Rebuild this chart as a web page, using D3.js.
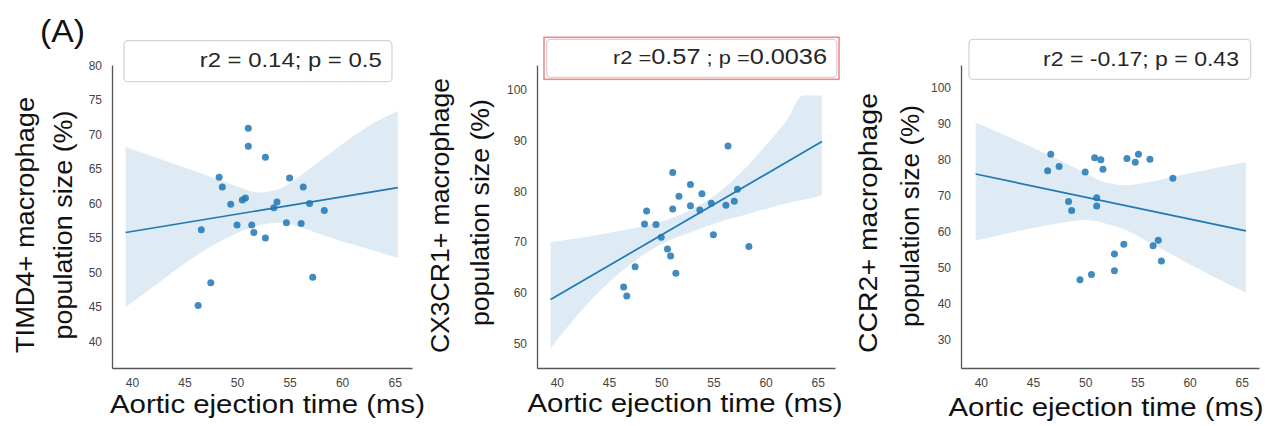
<!DOCTYPE html>
<html>
<head>
<meta charset="utf-8">
<script src="https://cdn.jsdelivr.net/npm/d3@7"></script>
<style>
  body { margin: 0; background: #fff; }
  svg { display: block; font-family: "Liberation Sans", Arial, sans-serif; }
</style>
</head>
<body>
<svg id="fig" width="1273" height="426"></svg>
<script>
// ---- shared axis values ----
const xTickValues = [40, 45, 50, 55, 60, 65];
const xLabel = "Aortic ejection time (ms)";

// ---- TIMD4+ panel ----
const timd4Time = [51.07, 51.07, 52.7, 48.3, 48.6, 55.0, 56.3, 49.4, 50.5, 50.8, 53.8, 53.5,
                   56.9, 58.3, 46.6, 50.0, 51.4, 54.7, 56.1, 51.6, 52.7, 47.5, 46.3, 57.2];
const timd4Pop  = [70.9, 68.3, 66.7, 63.8, 62.4, 63.7, 62.4, 59.9, 60.5, 60.8, 60.2, 59.4,
                   60.0, 59.0, 56.2, 56.9, 56.9, 57.2, 57.1, 55.8, 55.0, 48.5, 45.2, 49.3];
const timd4FitX = [39.4, 65.3];
const timd4FitY = [55.8, 62.3];
const timd4BandX  = [39.4, 42, 45, 48, 50, 52, 54, 56, 58, 60, 62.5, 65.3];
const timd4BandLo = [45.0, 47.9, 51.3, 54.2, 55.7, 56.8, 57.2, 56.6, 55.5, 54.5, 53.4, 52.1];
const timd4BandHi = [68.2, 66.8, 65.2, 63.6, 62.5, 61.6, 62.1, 64.0, 66.3, 68.6, 71.2, 73.4];
const timd4YTicks = [40, 45, 50, 55, 60, 65, 70, 75, 80];

// ---- CX3CR1+ panel ----
const cx3cr1Time = [56.4, 51.1, 52.8, 51.7, 53.9, 57.3, 52.8, 54.8, 56.2, 57.0, 51.1, 53.7,
                    48.6, 48.4, 49.5, 50.0, 50.6, 50.9, 51.4, 47.5, 46.4, 46.7, 55.0, 58.4];
const cx3cr1Pop  = [88.9, 83.7, 81.3, 79.0, 79.5, 80.4, 77.1, 77.6, 77.2, 78.0, 76.5, 76.3,
                    76.1, 73.5, 73.4, 70.9, 68.6, 67.2, 63.8, 65.1, 61.1, 59.3, 71.4, 69.1];
const cx3cr1FitX = [39.4, 65.4];
const cx3cr1FitY = [58.6, 89.8];
const cx3cr1BandX  = [39.4, 42, 45, 48, 50, 52, 54, 56, 58, 60, 62, 63.6, 65.4];
const cx3cr1BandLo = [49.0, 55.6, 62.0, 67.0, 69.5, 71.3, 72.8, 74.2, 75.3, 76.5, 77.6, 78.3, 79.2];
const cx3cr1BandHi = [69.9, 70.7, 71.8, 73.0, 74.0, 75.5, 77.6, 80.6, 84.4, 89.0, 93.9, 98.9, 98.9];
const cx3cr1YTicks = [50, 60, 70, 80, 90, 100];

// ---- CCR2+ panel ----
const ccr2Time = [46.7, 46.4, 47.5, 50.9, 51.5, 50.0, 51.7, 54.0, 55.1, 54.8, 56.2, 58.4,
                  48.4, 48.7, 51.1, 51.1, 53.7, 52.8, 52.8, 50.6, 49.5, 56.5, 57.0, 57.3];
const ccr2Pop  = [81.6, 77.0, 78.2, 80.6, 80.1, 76.7, 77.4, 80.4, 81.6, 79.4, 80.2, 74.9,
                  68.5, 66.0, 69.5, 67.2, 56.6, 53.9, 49.2, 48.2, 46.7, 56.2, 57.7, 51.9];
const ccr2FitX = [39.5, 65.4];
const ccr2FitY = [76.1, 60.3];
const ccr2BandX  = [39.5, 42, 45, 48, 50, 52, 54, 56, 58, 60, 62.5, 65.4];
const ccr2BandLo = [57.6, 59.3, 61.1, 62.7, 63.3, 62.3, 60.4, 57.3, 54.2, 51.0, 47.3, 43.1];
const ccr2BandHi = [90.4, 87.3, 83.4, 79.3, 76.4, 73.7, 73.0, 73.8, 75.1, 76.3, 77.8, 79.4];
const ccr2YTicks = [30, 40, 50, 60, 70, 80, 90, 100];

// ---- figure layout ----
const BLUE = "#1f77b4";
const svg = d3.select("#fig");

const panels = [
  {
    time: timd4Time, pop: timd4Pop, fitX: timd4FitX, fitY: timd4FitY,
    bandX: timd4BandX, bandLo: timd4BandLo, bandHi: timd4BandHi, yTicks: timd4YTicks,
    yDomain: [36.16, 80.07], left: 112, right: 412, top: 65, bottom: 368,
    yLab: [
      { text: "TIMD4+ macrophage", x: 33.5, y: 225, len: 256 },
      { text: "population size (%)", x: 71.5, y: 225, len: 229 }
    ],
    xLab: { x: 267.5, y: 413 },
    box: { x: 124, y: 40.7, w: 268, h: 41 },
    note: { right: 381.7, y: 66.7, len: 182,
            parts: [{ t: "r2 = 0.14; p = 0.5", s: 21 }] }
  },
  {
    time: cx3cr1Time, pop: cx3cr1Pop, fitX: cx3cr1FitX, fitY: cx3cr1FitY,
    bandX: cx3cr1BandX, bandLo: cx3cr1BandLo, bandHi: cx3cr1BandHi, yTicks: cx3cr1YTicks,
    yDomain: [45.1, 104.9], left: 537, right: 835, top: 65, bottom: 368,
    yLab: [
      { text: "CX3CR1+ macrophage", x: 448.5, y: 215.5, len: 275 },
      { text: "population size (%)", x: 488.5, y: 212.5, len: 227 }
    ],
    xLab: { x: 685, y: 412 },
    box: { x: 546.7, y: 39.3, w: 290, h: 38 },
    frame: { x: 544, y: 37.3, w: 295, h: 42 },
    note: { right: 827, y: 63.5, len: 214,
            parts: [{ t: "r2 =", s: 19 }, { t: "0.57", s: 22 }, { t: " ; p =", s: 19 }, { t: "0.0036", s: 22 }] }
  },
  {
    time: ccr2Time, pop: ccr2Pop, fitX: ccr2FitX, fitY: ccr2FitY,
    bandX: ccr2BandX, bandLo: ccr2BandLo, bandHi: ccr2BandHi, yTicks: ccr2YTicks,
    yDomain: [22.2, 106.4], left: 961, right: 1259, top: 65, bottom: 368,
    yLab: [
      { text: "CCR2+ macrophage", x: 876.5, y: 223, len: 260 },
      { text: "population size (%)", x: 918.5, y: 216, len: 222 }
    ],
    xLab: { x: 1106, y: 416 },
    box: { x: 969, y: 39.3, w: 281.7, h: 40 },
    note: { right: 1239, y: 66, len: 196,
            parts: [{ t: "r2 = -0.17; p = 0.43", s: 21 }] }
  }
];

const xDomain = [38.1, 66.65];

panels.forEach(p => {
  const g = svg.append("g");
  const x = d3.scaleLinear().domain(xDomain).range([p.left, p.right]);
  const y = d3.scaleLinear().domain(p.yDomain).range([p.bottom, p.top]);

  // confidence band
  const band = p.bandX.map((v, i) => ({ x: v, lo: p.bandLo[i], hi: p.bandHi[i] }));
  g.append("path")
    .datum(band)
    .attr("fill", BLUE)
    .attr("fill-opacity", 0.15)
    .attr("d", d3.area().x(d => x(d.x)).y0(d => y(d.lo)).y1(d => y(d.hi)).curve(d3.curveMonotoneX));

  // scatter points
  g.append("g").selectAll("circle")
    .data(p.time.map((t, i) => ({ t, v: p.pop[i] })))
    .join("circle")
    .attr("cx", d => x(d.t))
    .attr("cy", d => y(d.v))
    .attr("r", 3.5)
    .attr("fill", BLUE)
    .attr("fill-opacity", 0.85);

  // regression line
  g.append("path")
    .datum(p.fitX.map((v, i) => [v, p.fitY[i]]))
    .attr("fill", "none")
    .attr("stroke", BLUE)
    .attr("stroke-width", 1.7)
    .attr("d", d3.line().x(d => x(d[0])).y(d => y(d[1])));

  // axes: left and bottom spines only, no tick marks
  const yAxis = g.append("g")
    .attr("transform", `translate(${p.left},0)`)
    .call(d3.axisLeft(y).tickValues(p.yTicks).tickSize(0).tickSizeOuter(0).tickPadding(10));
  const xAxis = g.append("g")
    .attr("transform", `translate(0,${p.bottom})`)
    .call(d3.axisBottom(x).tickValues(xTickValues).tickSize(0).tickSizeOuter(0).tickPadding(10));
  [yAxis, xAxis].forEach(a => {
    a.select(".domain").attr("stroke", "#555").attr("stroke-width", 1.3);
    a.selectAll("text")
      .attr("font-family", "'Liberation Sans', Arial, sans-serif")
      .attr("font-size", 12)
      .attr("fill", "#444");
  });

  // axis titles
  p.yLab.forEach(l => {
    g.append("text")
      .attr("transform", `translate(${l.x},${l.y}) rotate(-90)`)
      .attr("text-anchor", "middle")
      .attr("font-size", 25.5)
      .attr("fill", "#111")
      .attr("textLength", l.len)
      .attr("lengthAdjust", "spacingAndGlyphs")
      .text(l.text);
  });
  g.append("text")
    .attr("x", p.xLab.x)
    .attr("y", p.xLab.y)
    .attr("text-anchor", "middle")
    .attr("font-size", 26)
    .attr("fill", "#111")
    .attr("textLength", 315)
    .attr("lengthAdjust", "spacingAndGlyphs")
    .text(xLabel);

  // statistics box
  if (p.frame) {
    g.append("rect")
      .attr("x", p.frame.x).attr("y", p.frame.y)
      .attr("width", p.frame.w).attr("height", p.frame.h)
      .attr("fill", "#fff")
      .attr("stroke", "#f08a8a")
      .attr("stroke-width", 1.6);
  }
  g.append("rect")
    .attr("x", p.box.x).attr("y", p.box.y)
    .attr("width", p.box.w).attr("height", p.box.h)
    .attr("rx", 4).attr("ry", 4)
    .attr("fill", "#fff")
    .attr("stroke", "#d4d4d4")
    .attr("stroke-width", 1.3);
  const note = g.append("text")
    .attr("x", p.note.right - p.note.len)
    .attr("y", p.note.y)
    .attr("fill", "#262626")
    .attr("textLength", p.note.len)
    .attr("lengthAdjust", "spacingAndGlyphs");
  p.note.parts.forEach(part => {
    note.append("tspan").attr("font-size", part.s).text(part.t);
  });
});

// panel letter
svg.append("text")
  .attr("x", 40)
  .attr("y", 42)
  .attr("font-size", 31)
  .attr("fill", "#111")
  .attr("textLength", 45)
  .attr("lengthAdjust", "spacingAndGlyphs")
  .text("(A)");
</script>
</body>
</html>
